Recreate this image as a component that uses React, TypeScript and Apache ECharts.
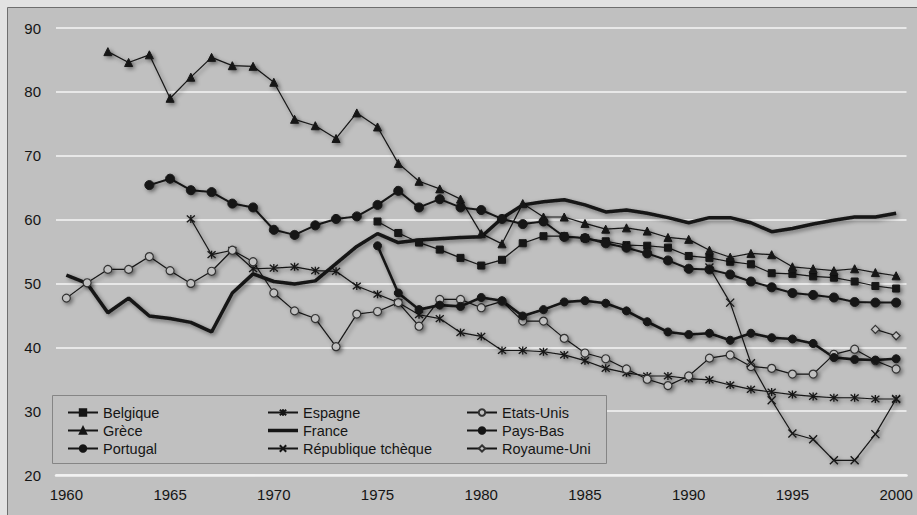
import React, { useEffect, useRef } from "react";
import * as echarts from "echarts";

const years = [
  "1960","1961","1962","1963","1964","1965","1966","1967","1968","1969",
  "1970","1971","1972","1973","1974","1975","1976","1977","1978","1979",
  "1980","1981","1982","1983","1984","1985","1986","1987","1988","1989",
  "1990","1991","1992","1993","1994","1995","1996","1997","1998","1999","2000",
];

const pad = (n: number) => Array(n).fill(null);

// Values by first year
const belgique = [...pad(15),
  59.7, 57.9, 56.4, 55.3, 54.0, 52.8, 53.7, 56.3, 57.4, 57.4, 57.1, 56.6, 56.0, 55.9, 55.6,
  54.3, 54.0, 53.4, 53.0, 51.6, 51.5, 51.1, 50.9, 50.3, 49.6, 49.2];
const grece = [...pad(2),
  86.3, 84.6, 85.8, 79.0, 82.3, 85.4, 84.1, 84.0, 81.5, 75.7, 74.7, 72.7, 76.7, 74.5, 68.8,
  66.0, 64.8, 63.2, 57.8, 56.2, 62.5, 60.4, 60.4, 59.4, 58.5, 58.7, 58.2, 57.2, 56.9, 55.2,
  54.1, 54.7, 54.5, 52.6, 52.3, 52.0, 52.3, 51.7, 51.2];
const portugal = [...pad(15),
  55.9, 48.5, 45.9, 46.6, 46.4, 47.8, 47.3, 44.9, 45.9, 47.1, 47.3, 46.9, 45.7, 44.0, 42.4,
  42.0, 42.2, 41.1, 42.2, 41.5, 41.3, 40.6, 38.4, 38.1, 38.0, 38.2];
const espagne = [...pad(6),
  60.1, 54.5, 55.2, 52.3, 52.4, 52.6, 52.0, 51.9, 49.6, 48.3, 47.0, 45.1, 44.5, 42.3,
  41.7, 39.5, 39.5, 39.3, 38.8, 37.9, 36.7, 36.0, 35.5, 35.5, 35.1, 34.9, 34.1, 33.4, 33.0,
  32.6, 32.3, 32.1, 32.1, 31.9, 31.9];
const france = [
  51.3, 50.0, 45.4, 47.7, 44.9, 44.5, 43.9, 42.4, 48.5, 51.5,
  50.3, 49.9, 50.4, 53.1, 55.8, 57.8, 56.4, 56.8, 57.0, 57.2,
  57.3, 60.2, 62.3, 62.8, 63.1, 62.3, 61.2, 61.5, 61.0, 60.3,
  59.5, 60.3, 60.3, 59.5, 58.1, 58.6, 59.3, 59.9, 60.4, 60.4, 61.0];
const tcheque = [...pad(31),
  52.5, 47.0, 37.5, 31.7, 26.5, 25.6, 22.3, 22.3, 26.4, 31.9];
const etatsUnis = [
  47.7, 50.1, 52.2, 52.2, 54.2, 52.0, 50.0, 51.9, 55.2, 53.4,
  48.5, 45.7, 44.5, 40.1, 45.2, 45.6, 47.0, 43.3, 47.5, 47.5,
  46.2, 47.2, 44.1, 44.1, 41.4, 39.1, 38.2, 36.6, 35.0, 34.0,
  35.5, 38.3, 38.8, 37.0, 36.7, 35.8, 35.8, 38.9, 39.7, 37.9, 36.6];
const paysBas = [...pad(4),
  65.4, 66.4, 64.6, 64.3, 62.5, 61.9, 58.4, 57.6, 59.1, 60.1, 60.5, 62.3, 64.5, 61.9, 63.2,
  61.9, 61.5, 60.1, 59.3, 59.7, 57.3, 57.1, 56.3, 55.6, 54.7, 53.6, 52.3, 52.2, 51.4, 50.3,
  49.4, 48.5, 48.2, 47.8, 47.1, 47.0, 47.0];
const royaumeUni = [...pad(39), 42.8, 41.8];

const yTicks = { min: 20, max: 90, interval: 10 };

const FONT = "'Liberation Sans', Arial, sans-serif";
const INK = "#151515";
const BG = "#c0c0c0";
const shadow = { shadowColor: "rgba(0,0,0,0.45)", shadowBlur: 4, shadowOffsetX: 2, shadowOffsetY: 2 };

const ASTER = "path://M0,0L10,10M10,0L0,10M5,-1L5,11";
const CROSS = "path://M0,0L10,10M10,0L0,10";
const BAR = "path://M0,0L30,0L30,3.5L0,3.5Z";

function lineSeries(name: string, data: any[], opts: any) {
  return {
    name,
    type: "line",
    data,
    connectNulls: false,
    color: INK,
    symbol: opts.symbol,
    symbolSize: opts.size,
    showSymbol: opts.symbol !== "none",
    lineStyle: { color: INK, width: opts.width, ...shadow },
    itemStyle: {
      color: opts.fill ?? INK,
      borderColor: opts.border ?? INK,
      borderWidth: opts.borderWidth ?? 1,
      ...shadow,
    },
    emphasis: { disabled: true },
    z: opts.z ?? 2,
  };
}

export default function App() {
  const ref = useRef<HTMLDivElement>(null);
  useEffect(() => {
    document.body.style.margin = "0";
    const chart = echarts.init(ref.current!, undefined, { renderer: "svg" });
    const legendCommon = {
      orient: "vertical",
      top: 405,
      padding: 0,
      itemWidth: 30,
      itemHeight: 8,
      itemGap: 3,
      textStyle: { fontSize: 14.5, color: INK, fontFamily: FONT, lineHeight: 14 },
      selectedMode: false,
    };
    chart.setOption({
      animation: false,
      backgroundColor: "#e2e2e2",
      textStyle: { fontFamily: FONT },
      graphic: [
        {
          type: "rect",
          z: -100,
          silent: true,
          shape: { x: 7.5, y: 7.5, width: 930, height: 530 },
          style: { fill: BG, stroke: "#6e6e6e", lineWidth: 1 },
        },
        {
          type: "rect",
          z: 3,
          silent: true,
          shape: { x: 52.5, y: 395.5, width: 554, height: 68 },
          style: { fill: BG, stroke: "#858585", lineWidth: 1 },
        },
      ],
      grid: { left: 56, right: 10.5, top: 28, bottom: 40 },
      xAxis: {
        type: "category",
        data: years,
        boundaryGap: true,
        axisLine: { lineStyle: { color: "#f2f2f2", width: 2.5 } },
        axisTick: { interval: 0, length: 5, lineStyle: { color: "#f2f2f2", width: 1.5 } },
        axisLabel: { interval: 4, fontSize: 15, color: INK, fontFamily: FONT, margin: 12 },
        splitLine: { show: false },
      },
      yAxis: {
        type: "value",
        min: yTicks.min,
        max: yTicks.max,
        interval: yTicks.interval,
        axisLine: { show: false },
        axisTick: { show: false },
        axisLabel: { fontSize: 15, color: INK, fontFamily: FONT, margin: 15 },
        splitLine: { lineStyle: { color: "#e8e8e8", width: 2 } },
      },
      legend: [
        { ...legendCommon, left: 67, data: ["Belgique", "Grèce", "Portugal"] },
        { ...legendCommon, left: 267, data: ["Espagne", { name: "France", icon: BAR, itemStyle: { color: INK, borderWidth: 0 } }, "République tchèque"] },
        { ...legendCommon, left: 466, data: ["Etats-Unis", "Pays-Bas", "Royaume-Uni"] },
      ],
      series: [
        lineSeries("Belgique", belgique, { symbol: "rect", size: 7, width: 1.2 }),
        lineSeries("Espagne", espagne, { symbol: ASTER, size: 8, width: 1.2, fill: "none", borderWidth: 1.3 }),
        lineSeries("Etats-Unis", etatsUnis, { symbol: "circle", size: 8, width: 1.2, fill: BG, border: "#333", borderWidth: 1.2 }),
        lineSeries("Grèce", grece, { symbol: "triangle", size: 8, width: 1.2 }),
        lineSeries("France", france, { symbol: "none", size: 0, width: 3.5 }),
        lineSeries("Pays-Bas", paysBas, { symbol: "circle", size: 9, width: 2 }),
        lineSeries("Portugal", portugal, { symbol: "circle", size: 8, width: 2.6 }),
        lineSeries("République tchèque", tcheque, { symbol: CROSS, size: 8, width: 1.2, fill: "none", borderWidth: 1.3 }),
        lineSeries("Royaume-Uni", royaumeUni, { symbol: "diamond", size: 8, width: 1.2, fill: BG, border: "#333", borderWidth: 1.2 }),
      ],
    });
    return () => chart.dispose();
  }, []);
  return <div ref={ref} style={{ width: 917, height: 515 }} />;
}
